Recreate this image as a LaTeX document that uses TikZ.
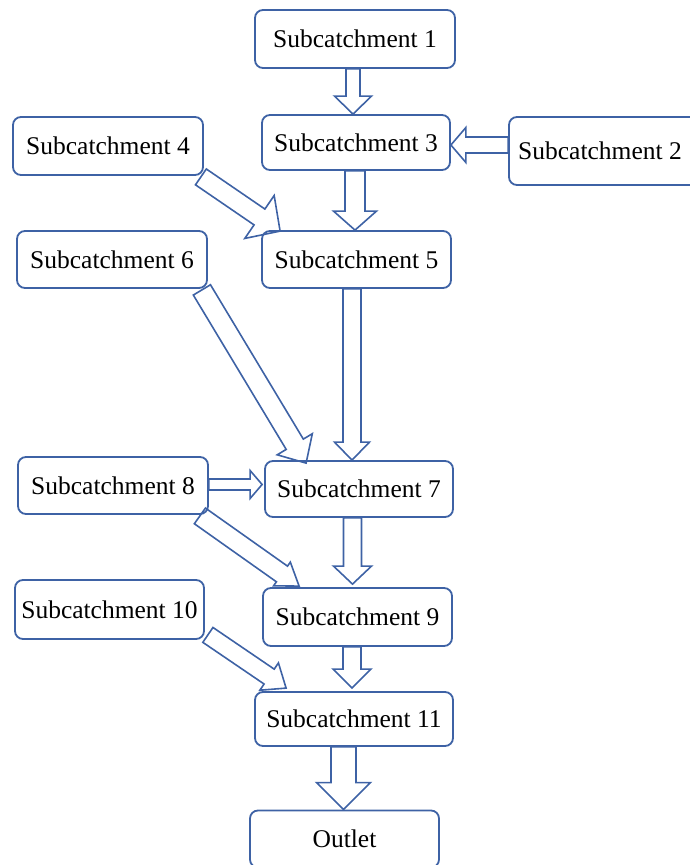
\documentclass[tikz,border=0pt]{standalone}
\usepackage{fontspec}
\setmainfont{Liberation Serif}
\usetikzlibrary{calc}
\definecolor{edge}{RGB}{62,98,165}

% hollow block arrow: start, tip, shaft half width, head half width, head length
\newcommand{\flow}[5]{%
  \path (#1) coordinate (fs) (#2) coordinate (fe);
  \path ($(fe)!#5pt!(fs)$) coordinate (fb);
  \draw[flow] ($(fs)!#3pt!90:(fe)$) -- ($(fb)!#3pt!90:(fe)$) -- ($(fb)!#4pt!90:(fe)$)
    -- (fe) -- ($(fb)!#4pt!-90:(fe)$) -- ($(fb)!#3pt!-90:(fe)$) -- ($(fs)!#3pt!-90:(fe)$) -- cycle;
}

\begin{document}
\begin{tikzpicture}[
x=1pt, y=-1pt,
box/.style={rectangle,rounded corners=8pt,draw=edge,line width=1.8pt,inner sep=0,
  font=\fontsize{25.5}{30}\selectfont},
flow/.style={draw=edge,line width=1.6pt,line join=miter}
]
\useasboundingbox (0,0) rectangle (689,865);

\node[box,minimum width=200,minimum height=58] (s1) at (355,39) {Subcatchment 1};
\node[box,minimum width=200,minimum height=68] (s2) at (609,151) {\hspace*{-18pt}Subcatchment 2};
\node[box,minimum width=188,minimum height=55] (s3) at (356,142.5) {Subcatchment 3};
\node[box,minimum width=190,minimum height=58] (s4) at (108,146) {Subcatchment 4};
\node[box,minimum width=189,minimum height=57] (s5) at (356.5,259.5) {Subcatchment 5};
\node[box,minimum width=190,minimum height=57] (s6) at (112,259.5) {Subcatchment 6};
\node[box,minimum width=188,minimum height=56] (s7) at (359,489) {Subcatchment 7};
\node[box,minimum width=190,minimum height=57] (s8) at (113,485.5) {Subcatchment 8};
\node[box,minimum width=189,minimum height=58] (s9) at (357.5,617) {Subcatchment 9};
\node[box,minimum width=189,minimum height=59] (s10) at (109.5,609.5) {Subcatchment 10};
\node[box,minimum width=198,minimum height=54] (s11) at (354,719) {Subcatchment 11};
\node[box,minimum width=189,minimum height=57] (out) at (344.5,839) {Outlet};

\flow{$(s1.south)+(-2,0)$}{$(s3.north)+(-3,0)$}{7}{18.5}{18}
\flow{$(s2.west)+(0,-6)$}{$(s3.east)+(0,2.5)$}{8}{17.5}{15}
\flow{$(s3.south)+(-1,0)$}{$(s5.north)+(-1.5,0)$}{10}{21.5}{19}
\flow{$(s4.south east)+(-3,1)$}{$(s5.north west)+(19,1)$}{9.6}{26}{25}
\flow{$(s5.south)+(-4.5,0)$}{$(s7.north)+(-7,0)$}{9}{17.5}{18}
\flow{$(s6.south east)+(-6,1)$}{$(s7.north west)+(42,3)$}{10}{20.5}{22}
\flow{$(s8.east)+(0,-1)$}{$(s7.west)+(-2,-4.5)$}{5.5}{14}{12}
\flow{$(s8.south east)+(-9,1)$}{$(s9.north west)+(37,-1)$}{9.6}{14.5}{21}
\flow{$(s7.south)+(-6.5,0)$}{$(s9.north)+(-5,-3)$}{9}{19}{18}
\flow{$(s10.south east)+(3,-5)$}{$(s11.north west)+(32,-3)$}{9}{16.5}{20.5}
\flow{$(s9.south)+(-5.5,0)$}{$(s11.north)+(-2,-3)$}{9}{19}{19}
\flow{$(s11.south)+(-10.5,0)$}{$(out.north)+(-1,0)$}{12.5}{27}{27}

\end{tikzpicture}
\end{document}
